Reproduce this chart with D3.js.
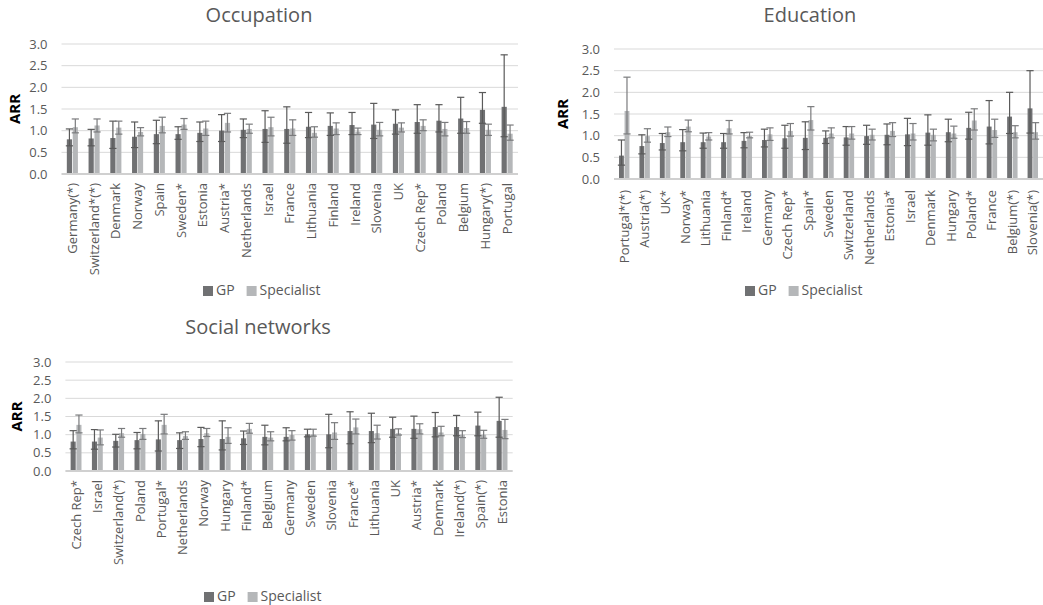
<!DOCTYPE html>
<html>
<head>
<meta charset="utf-8">
<script src="https://cdn.jsdelivr.net/npm/d3@7"></script>
<style>
  body { margin: 0; background: #fff; }
  text { font-family: "Open Sans", sans-serif; }
</style>
</head>
<body>
<script>
// ---- data ----
let occCats = ['Germany(*)', 'Switzerland*(*)', 'Denmark', 'Norway', 'Spain', 'Sweden*', 'Estonia', 'Austria*', 'Netherlands', 'Israel', 'France', 'Lithuania', 'Finland', 'Ireland', 'Slovenia', 'UK', 'Czech Rep*', 'Poland', 'Belgium', 'Hungary(*)', 'Portugal'];
let occGP     = [0.80, 0.82, 0.83, 0.86, 0.92, 0.92, 0.95, 1.00, 1.02, 1.04, 1.04, 1.09, 1.11, 1.13, 1.14, 1.16, 1.20, 1.23, 1.28, 1.48, 1.55];
let occGPLo   = [0.65, 0.65, 0.59, 0.61, 0.70, 0.80, 0.75, 0.75, 0.84, 0.73, 0.71, 0.84, 0.89, 0.91, 0.82, 0.92, 0.94, 0.97, 0.94, 1.17, 0.86];
let occGPHi   = [1.04, 1.03, 1.22, 1.20, 1.24, 1.09, 1.20, 1.37, 1.27, 1.46, 1.55, 1.42, 1.41, 1.42, 1.63, 1.48, 1.60, 1.60, 1.77, 1.88, 2.75];
let occSp     = [1.08, 1.12, 1.07, 0.97, 1.11, 1.14, 1.05, 1.18, 1.04, 1.08, 1.05, 0.95, 1.05, 0.98, 1.02, 1.07, 1.11, 1.04, 1.06, 1.02, 0.93];
let occSpLo   = [0.95, 0.97, 0.92, 0.88, 0.95, 1.03, 0.89, 0.97, 0.94, 0.88, 0.89, 0.85, 0.91, 0.91, 0.88, 0.97, 1.00, 0.88, 0.94, 0.89, 0.78];
let occSpHi   = [1.27, 1.27, 1.22, 1.07, 1.31, 1.28, 1.22, 1.40, 1.15, 1.31, 1.25, 1.09, 1.18, 1.06, 1.19, 1.18, 1.25, 1.19, 1.21, 1.15, 1.13];

let eduCats = ['Portugal*(*)', 'Austria(*)', 'UK*', 'Norway*', 'Lithuania', 'Finland*', 'Ireland', 'Germany', 'Czech Rep*', 'Spain*', 'Sweden', 'Switzerland', 'Netherlands', 'Estonia*', 'Israel', 'Denmark', 'Hungary', 'Poland*', 'France', 'Belgium(*)', 'Slovenia(*)'];
let eduGP     = [0.54, 0.76, 0.83, 0.85, 0.85, 0.85, 0.88, 0.90, 0.94, 0.95, 0.95, 0.96, 0.99, 1.02, 1.03, 1.07, 1.08, 1.18, 1.21, 1.44, 1.63];
let eduGPLo   = [0.32, 0.58, 0.67, 0.65, 0.71, 0.71, 0.72, 0.74, 0.71, 0.68, 0.82, 0.78, 0.80, 0.79, 0.77, 0.78, 0.86, 0.92, 0.81, 1.05, 1.06];
let eduGPHi   = [0.90, 1.02, 1.05, 1.14, 1.06, 1.05, 1.07, 1.15, 1.24, 1.32, 1.11, 1.21, 1.24, 1.27, 1.40, 1.48, 1.38, 1.54, 1.81, 2.00, 2.50];
let eduSp     = [1.57, 0.99, 1.08, 1.21, 0.98, 1.17, 0.99, 1.03, 1.11, 1.36, 1.05, 1.05, 1.02, 1.11, 1.05, 1.02, 1.05, 1.35, 1.13, 1.08, 1.08];
let eduSpLo   = [1.04, 0.85, 0.98, 1.09, 0.90, 1.04, 0.95, 0.89, 0.99, 1.13, 0.95, 0.92, 0.90, 0.98, 0.90, 0.88, 0.94, 1.13, 0.96, 0.95, 0.92];
let eduSpHi   = [2.35, 1.16, 1.20, 1.36, 1.07, 1.35, 1.08, 1.18, 1.28, 1.67, 1.18, 1.21, 1.15, 1.30, 1.28, 1.15, 1.22, 1.62, 1.38, 1.23, 1.30];

let socCats = ['Czech Rep*', 'Israel', 'Switzerland(*)', 'Poland', 'Portugal*', 'Netherlands', 'Norway', 'Hungary', 'Finland*', 'Belgium', 'Germany', 'Sweden', 'Slovenia', 'France*', 'Lithuania', 'UK', 'Austria*', 'Denmark', 'Ireland(*)', 'Spain(*)', 'Estonia'];
let socGP     = [0.81, 0.81, 0.83, 0.85, 0.87, 0.85, 0.88, 0.88, 0.90, 0.94, 0.94, 1.01, 1.01, 1.10, 1.10, 1.16, 1.16, 1.21, 1.21, 1.25, 1.38];
let socGPLo   = [0.61, 0.60, 0.66, 0.61, 0.55, 0.62, 0.67, 0.58, 0.73, 0.72, 0.83, 0.94, 0.64, 0.75, 0.78, 0.93, 0.90, 0.94, 0.97, 0.97, 0.93];
let socGPHi   = [1.11, 1.14, 1.01, 1.06, 1.38, 1.05, 1.20, 1.38, 1.10, 1.26, 1.19, 1.15, 1.56, 1.63, 1.59, 1.48, 1.51, 1.61, 1.53, 1.62, 2.03];
let socSp     = [1.27, 0.92, 1.04, 1.02, 1.27, 0.96, 1.04, 0.94, 1.16, 0.92, 0.99, 1.01, 1.06, 1.20, 1.04, 1.04, 1.15, 1.06, 1.00, 1.00, 1.13];
let socSpLo   = [1.05, 0.72, 0.93, 0.87, 1.02, 0.87, 0.95, 0.76, 1.04, 0.83, 0.85, 0.96, 0.87, 1.02, 0.88, 0.99, 1.02, 0.97, 0.92, 0.90, 0.89];
let socSpHi   = [1.54, 1.13, 1.17, 1.17, 1.56, 1.08, 1.17, 1.19, 1.31, 1.08, 1.11, 1.15, 1.33, 1.43, 1.26, 1.16, 1.30, 1.23, 1.11, 1.12, 1.42];

let yTicks = [0, 0.5, 1.0, 1.5, 2.0, 2.5, 3.0];
let seriesNames = ['GP', 'Specialist'];
let barColors = ['#707173', '#b5b7b9'];
let errColors = ['#5a5a5a', '#7a7b7d'];

let svg = d3.select('body').append('svg')
    .attr('width', 1043)
    .attr('height', 605);

function panel(p) {
    let g = svg.append('g');

    let x = d3.scaleBand().domain(p.cats).range([p.x0, p.x1])
        .paddingInner(0.49).paddingOuter(0.245);
    let x1 = d3.scaleBand().domain(seriesNames).range([0, x.bandwidth()]).paddingInner(0.12);
    let y = d3.scaleLinear().domain([0, 3]).range([p.y0, p.y3]);

    // title
    g.append('text').attr('x', p.tx).attr('y', p.ty)
        .attr('text-anchor', 'middle')
        .style('font-size', '20px').style('fill', '#595959')
        .text(p.title);

    // gridlines
    g.selectAll('.grid').data(yTicks.slice(1)).enter().append('line')
        .attr('x1', p.x0).attr('x2', p.x1)
        .attr('y1', d => y(d)).attr('y2', d => y(d))
        .style('stroke', '#d9d9d9').style('stroke-width', 1);

    // y tick labels
    g.selectAll('.ytick').data(yTicks).enter().append('text')
        .attr('x', p.x0 - 14).attr('y', d => y(d))
        .attr('dy', '0.35em').attr('text-anchor', 'end')
        .style('font-size', '13px').style('fill', '#595959')
        .text(d => d3.format('.1f')(d));

    // ARR label
    g.append('text')
        .attr('transform', `translate(${p.ax},${(p.y0 + p.y3) / 2}) rotate(-90)`)
        .attr('dy', '0.35em').attr('text-anchor', 'middle')
        .style('font-size', '15px').style('font-weight', 'bold').style('fill', '#000')
        .text('ARR');

    let rows = p.cats.map((c, i) => ({
        cat: c,
        vals: [
            {s: 'GP', v: p.gp[i], lo: p.gpLo[i], hi: p.gpHi[i], k: 0},
            {s: 'Specialist', v: p.sp[i], lo: p.spLo[i], hi: p.spHi[i], k: 1}
        ]
    }));

    let grp = g.selectAll('.grp').data(rows).enter().append('g')
        .attr('transform', d => `translate(${x(d.cat)},0)`);

    grp.selectAll('rect').data(d => d.vals).enter().append('rect')
        .attr('x', d => x1(d.s)).attr('width', x1.bandwidth())
        .attr('y', d => y(d.v)).attr('height', d => y(0) - y(d.v))
        .style('fill', d => barColors[d.k]);

    // error bars
    let cap = 3.6;
    let eb = grp.selectAll('.err').data(d => d.vals).enter().append('g')
        .style('stroke', d => errColors[d.k]).style('stroke-width', 1.2);
    eb.append('line')
        .attr('x1', d => x1(d.s) + x1.bandwidth() / 2).attr('x2', d => x1(d.s) + x1.bandwidth() / 2)
        .attr('y1', d => y(d.lo)).attr('y2', d => y(d.hi));
    eb.append('line')
        .attr('x1', d => x1(d.s) + x1.bandwidth() / 2 - cap).attr('x2', d => x1(d.s) + x1.bandwidth() / 2 + cap)
        .attr('y1', d => y(d.hi)).attr('y2', d => y(d.hi));
    eb.append('line')
        .attr('x1', d => x1(d.s) + x1.bandwidth() / 2 - cap).attr('x2', d => x1(d.s) + x1.bandwidth() / 2 + cap)
        .attr('y1', d => y(d.lo)).attr('y2', d => y(d.lo));

    // baseline
    g.append('line')
        .attr('x1', p.x0).attr('x2', p.x1)
        .attr('y1', y(0)).attr('y2', y(0))
        .style('stroke', '#d0d0d0').style('stroke-width', 2);

    // category labels
    g.selectAll('.xlab').data(p.cats).enter().append('text')
        .attr('transform', d => `translate(${x(d) + x.bandwidth() / 2},${y(0) + p.lab}) rotate(-90)`)
        .attr('dy', '0.35em').attr('text-anchor', 'end')
        .style('font-size', '13px').style('fill', '#595959')
        .text(d => d);

    // legend
    let lg = g.append('g').attr('transform', `translate(${p.lx},${p.ly})`);
    let lx = 0;
    seriesNames.forEach((s, i) => {
        lg.append('rect').attr('x', lx).attr('y', -9).attr('width', 10).attr('height', 10)
            .style('fill', barColors[i]);
        let t = lg.append('text').attr('x', lx + 13).attr('y', 0)
            .style('font-size', '14px').style('fill', '#595959').text(s);
        lx += 13 + t.node().getComputedTextLength() + 12;
    });
}

panel({title: 'Occupation', cats: occCats, gp: occGP, gpLo: occGPLo, gpHi: occGPHi, sp: occSp, spLo: occSpLo, spHi: occSpHi,
    x0: 61.5, x1: 518, y0: 174, y3: 44, tx: 259, ty: 22, ax: 15, lab: 9, lx: 203, ly: 295});
panel({title: 'Education', cats: eduCats, gp: eduGP, gpLo: eduGPLo, gpHi: eduGPHi, sp: eduSp, spLo: eduSpLo, spHi: eduSpHi,
    x0: 614, x1: 1043, y0: 179, y3: 49, tx: 810, ty: 22, ax: 563, lab: 11, lx: 745, ly: 295});
panel({title: 'Social networks', cats: socCats, gp: socGP, gpLo: socGPLo, gpHi: socGPHi, sp: socSp, spLo: socSpLo, spHi: socSpHi,
    x0: 65.4, x1: 512.7, y0: 471, y3: 362, tx: 258, ty: 334, ax: 17, lab: 9, lx: 204, ly: 601});
</script>
</body>
</html>
